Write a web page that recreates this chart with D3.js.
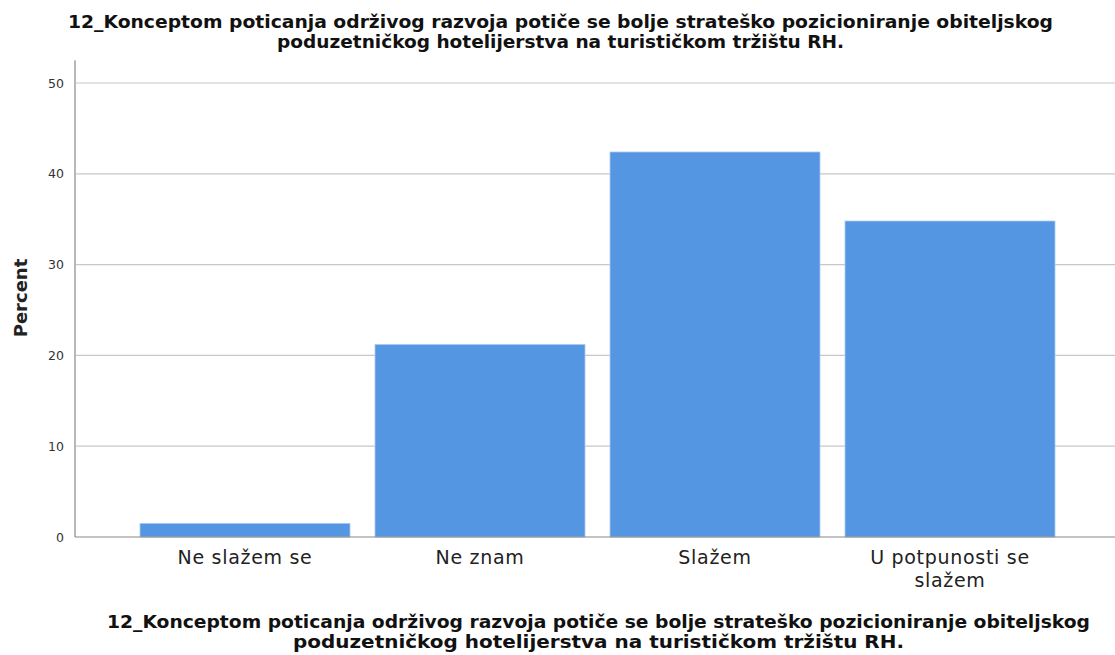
<!DOCTYPE html>
<html><head><meta charset="utf-8">
<script src="https://cdn.jsdelivr.net/npm/d3@7"></script>
<style>body{margin:0;background:#fff}svg{display:block}</style>
</head><body>
<script>
const categories = ["Ne slažem se", "Ne znam", "Slažem", "U potpunosti se slažem"];
const percentValues = [1.5, 21.2, 42.4, 34.8];
const yTicks = [0, 10, 20, 30, 40, 50];
const titleLines = ["12_Konceptom poticanja održivog razvoja potiče se bolje strateško pozicioniranje obiteljskog", "poduzetničkog hotelijerstva na turističkom tržištu RH."];
const xLabelLines = titleLines;
const yLabel = "Percent";

const W = 1115, H = 655;
const svg = d3.select("body").append("svg").attr("width", W).attr("height", H);
const font = "'DejaVu Sans', Verdana, sans-serif";

const x = d3.scaleBand().domain(categories).range([127.5, 1067.5]).paddingInner(25/235).paddingOuter(25/470);
const y = d3.scaleLinear().domain([0, 50]).range([537, 83]);

// gridlines
svg.append("g").selectAll("line").data(yTicks.filter(d => d > 0)).join("line")
  .attr("x1", 76).attr("x2", W).attr("y1", d => y(d)).attr("y2", d => y(d))
  .attr("stroke", "#c8c8c8").attr("stroke-width", 1.2);

// bars
svg.append("g").selectAll("rect").data(categories).join("rect")
  .attr("x", d => x(d)).attr("width", x.bandwidth())
  .attr("y", (d, i) => y(percentValues[i])).attr("height", (d, i) => y(0) - y(percentValues[i]))
  .attr("fill", "#5596e3").attr("stroke", "#a9c8ef").attr("stroke-width", 0.8);

// y axis
const yAxis = d3.axisLeft(y).tickValues(yTicks).tickSize(0).tickPadding(11).tickFormat(d3.format("d"));
const gy = svg.append("g").attr("transform", "translate(75,0)").call(yAxis);
gy.select(".domain").attr("stroke", "#888").attr("stroke-width", 1.2).attr("d", `M0,${y(52.5)}V${y(0)}`);
gy.selectAll("text").attr("font-family", font).attr("font-size", 12.5).attr("fill", "#333");

// x axis baseline
svg.append("line").attr("x1", 75).attr("x2", W).attr("y1", y(0)).attr("y2", y(0))
  .attr("stroke", "#888").attr("stroke-width", 1.2);

// x tick labels
const xl = svg.append("g");
const wrapped = {"U potpunosti se slažem": ["U potpunosti se", "slažem"]};
categories.forEach(c => {
  const lines = wrapped[c] || [c];
  const t = xl.append("text").attr("x", x(c) + x.bandwidth()/2).attr("y", 564)
    .attr("text-anchor", "middle").attr("font-family", font).attr("font-size", 19)
    .attr("letter-spacing", 0.7).attr("fill", "#222");
  lines.forEach((l, i) => t.append("tspan").attr("x", x(c) + x.bandwidth()/2).attr("dy", i ? 22.5 : 0).text(l));
});

// y label
svg.append("text").attr("transform", "translate(26.5,298) rotate(-90)")
  .attr("text-anchor", "middle").attr("font-family", font).attr("font-weight", "bold")
  .attr("font-size", 18).attr("fill", "#222").text(yLabel);

// titles
function block(lines, cx, y0, widths) {
  lines.forEach((l, i) => {
    svg.append("text").attr("x", cx).attr("y", y0 + i * 20).attr("text-anchor", "middle")
      .attr("font-family", font).attr("font-weight", "bold").attr("font-size", 17).attr("fill", "#111")
      .attr("textLength", widths[i]).attr("lengthAdjust", "spacingAndGlyphs").text(l);
  });
}
block(titleLines, 560.5, 28, [985, 567]);
block(xLabelLines, 598.5, 628, [983, 611]);
</script>
</body></html>
